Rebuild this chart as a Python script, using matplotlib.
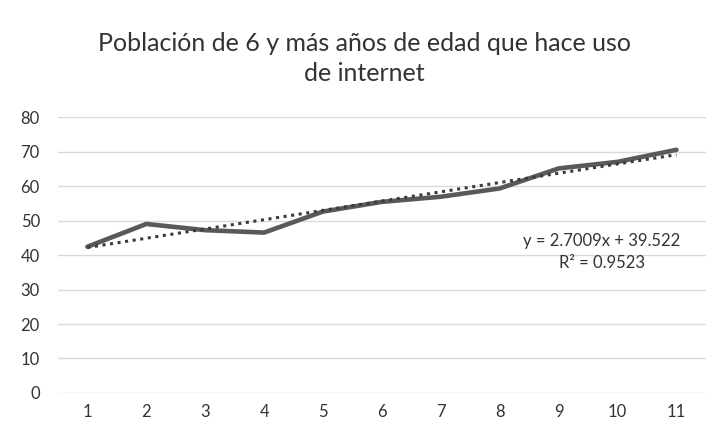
import matplotlib
matplotlib.use("Agg")
import matplotlib.pyplot as plt
import numpy as np

categories = [1, 2, 3, 4, 5, 6, 7, 8, 9, 10, 11]
values = [42.4, 49.0, 47.2, 46.5, 52.6, 55.4, 56.9, 59.3, 65.1, 67.0, 70.5]
y_ticks = [0, 10, 20, 30, 40, 50, 60, 70, 80]
title = "Población de 6 y más años de edad que hace uso\nde internet"
eq_text = "y = 2.7009x + 39.522\nR² = 0.9523"

plt.rcParams['font.family'] = ['Lato', 'DejaVu Sans']

fig = plt.figure(figsize=(7.24, 4.37), dpi=100)
ax = fig.add_axes([0.080, 0.1007, 0.895, 0.6315])

x = np.array(categories, dtype=float)
y = np.array(values, dtype=float)
ax.plot(x, y, color='#595959', lw=3.3, solid_capstyle='round', zorder=3)

slope, intercept = np.polyfit(x, y, 1)
ax.plot(x, slope * x + intercept, color='#3a3a3a', lw=2.2,
        linestyle=(0, (1, 1.5)), zorder=4)

ax.set_xlim(0.5, 11.5)
ax.set_ylim(0, 80)
ax.set_yticks(y_ticks)
ax.set_xticks(categories)
ax.set_xticklabels([str(c) for c in categories])
ax.grid(axis='y', color='#d9d9d9', lw=1)
ax.set_axisbelow(True)
for s in ax.spines.values():
    s.set_visible(False)
ax.tick_params(axis='both', length=0, labelsize=12, colors='#333333')
ax.tick_params(axis='x', pad=8)
ax.tick_params(axis='y', pad=13)

fig.text(0.503, 0.927, title, ha='center', va='top', fontsize=18,
         color='#333333', linespacing=1.35)

ax.text(9.73, 40.9, eq_text, ha='center', va='center', fontsize=12,
        color='#333333', linespacing=1.45)

fig.savefig("out.png", dpi=100)
